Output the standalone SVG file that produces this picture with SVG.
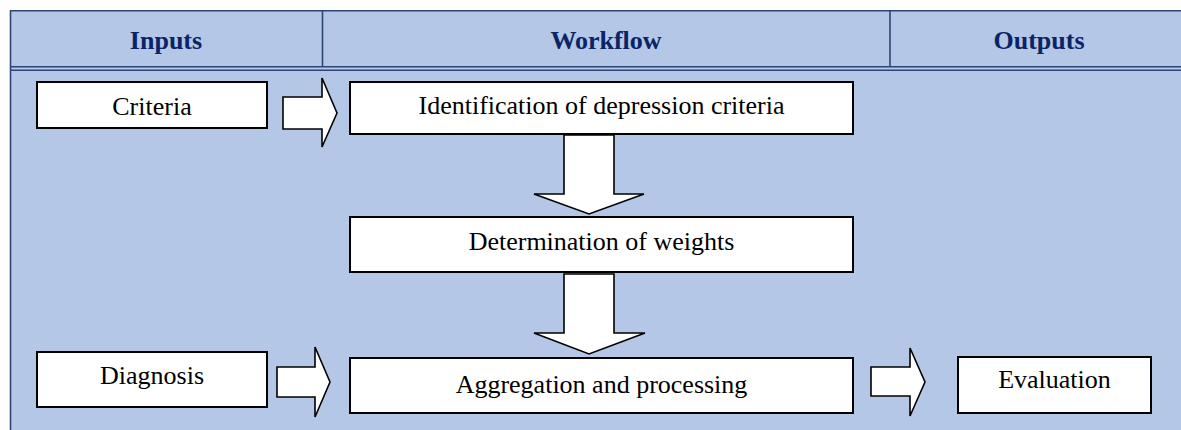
<svg xmlns="http://www.w3.org/2000/svg" width="1181" height="430" viewBox="0 0 1181 430">
<style>
.hdr{font-family:"Liberation Serif","Times New Roman",serif;font-weight:bold;font-size:26px;fill:#0A2466;text-anchor:middle}
.lbl{font-family:"Liberation Serif","Times New Roman",serif;font-size:26px;fill:#000;text-anchor:middle}
.box{fill:#fff;stroke:#000;stroke-width:2}
.arr{fill:#fff;stroke:#000;stroke-width:1.6;stroke-linejoin:miter}
.rule{stroke:#2E4677;stroke-width:1.6;fill:none}
</style>
<rect x="0" y="0" width="1181" height="430" fill="#fff"/>
<g id="frame">
<rect x="10" y="10" width="1171" height="420" fill="#B4C7E7"/>
<line class="rule" x1="10" y1="10.8" x2="1181" y2="10.8"/>
<line class="rule" x1="10" y1="66.8" x2="1181" y2="66.8"/>
<line class="rule" x1="10" y1="70.2" x2="1181" y2="70.2"/>
<line class="rule" x1="10.5" y1="10" x2="10.5" y2="430"/>
<line class="rule" x1="322.5" y1="10" x2="322.5" y2="67"/>
<line class="rule" x1="890" y1="10" x2="890" y2="67"/>
<text class="hdr" x="166" y="49">Inputs</text>
<text class="hdr" x="606" y="49">Workflow</text>
<text class="hdr" x="1039" y="49">Outputs</text>
</g>
<g id="connectors">
<polygon class="arr" points="283,97 322,97 322,78 337,113 322,147 322,129 283,129"/>
<polygon class="arr" points="564,135 614,135 614,194 644,194 589,214 534,194 564,194"/>
<polygon class="arr" points="564,274 614,274 614,333 645,333 589,354 534,333 564,333"/>
<polygon class="arr" points="277,367 315,367 315,347 330,382 315,417 315,397 277,397"/>
<polygon class="arr" points="871,367 910,367 910,348 925,382 910,416 910,396 871,396"/>
</g>
<g id="criteria">
<rect class="box" x="37" y="82" width="230" height="46"/>
<text class="lbl" x="152" y="115">Criteria</text>
</g>
<g id="identification">
<rect class="box" x="350" y="82" width="503" height="52"/>
<text class="lbl" x="601.5" y="114">Identification of depression criteria</text>
</g>
<g id="determination">
<rect class="box" x="350" y="217" width="503" height="55"/>
<text class="lbl" x="601.5" y="250">Determination of weights</text>
</g>
<g id="diagnosis">
<rect class="box" x="37" y="352" width="230" height="55"/>
<text class="lbl" x="152" y="384">Diagnosis</text>
</g>
<g id="aggregation">
<rect class="box" x="350" y="358" width="503" height="55"/>
<text class="lbl" x="601.5" y="393">Aggregation and processing</text>
</g>
<g id="evaluation">
<rect class="box" x="958" y="357" width="193" height="56"/>
<text class="lbl" x="1054.5" y="388">Evaluation</text>
</g>
</svg>
